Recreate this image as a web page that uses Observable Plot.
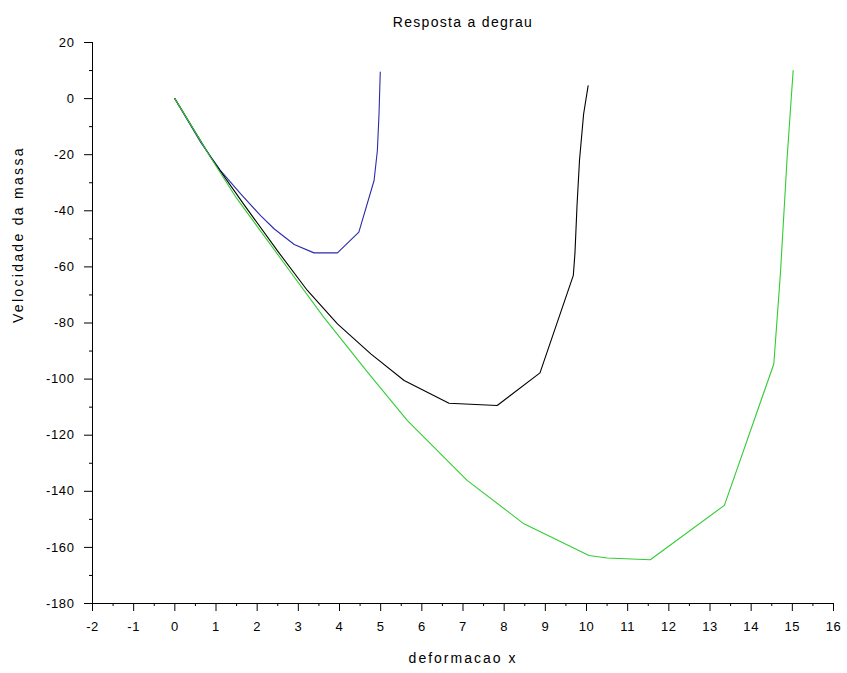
<!DOCTYPE html>
<html>
<head>
<meta charset="utf-8">
<script src="https://cdn.jsdelivr.net/npm/d3@7"></script>
<script src="https://cdn.jsdelivr.net/npm/@observablehq/plot@0.6"></script>
<style>
  html, body { margin: 0; padding: 0; background: #fff; }
  svg { display: block; }
</style>
</head>
<body>
<div id="chart"></div>
<script>
const title = "Resposta a degrau";
const xLabel = "deformacao x";
const yLabel = "Velocidade da massa";

const xTicks = [-2,-1,0,1,2,3,4,5,6,7,8,9,10,11,12,13,14,15,16];
const yTicks = [-180,-160,-140,-120,-100,-80,-60,-40,-20,0,20];

const blueX = [0, 0.63, 1.1, 1.6, 2.09, 2.41, 2.9, 3.38, 3.95, 4.47, 4.84, 4.92, 4.96, 4.99];
const blueY = [0, -15.6, -25.5, -34, -41.8, -46.4, -52, -55, -55, -47.6, -29.2, -18.5, -5.5, 9.5];

const blackX = [0, 0.87, 1.68, 2.49, 3.22, 3.95, 4.76, 5.57, 6.66, 7.83, 8.87, 9.68, 9.72, 9.77, 9.83, 9.93, 10.04];
const blackY = [0, -20.9, -37.8, -54.2, -68.4, -80.3, -91, -100.5, -108.6, -109.4, -97.8, -63, -55, -38, -22, -5.5, 4.6];

const greenX = [0, 0.87, 1.5, 2.65, 3.62, 4.68, 5.65, 7.1, 8.48, 10.06, 10.5, 11.55, 13.35, 14.55, 14.71, 14.87, 15.02];
const greenY = [0, -21, -35.5, -58.6, -78, -97.5, -114.8, -136.1, -151.6, -162.9, -163.8, -164.4, -145, -94.6, -62.5, -22, 10];

const seriesColors = {blue: "#2b2ba8", black: "#000000", green: "#33cc33"};

const toRows = (xs, ys, s) => xs.map((x, i) => ({x, y: ys[i], s}));
const rows = [
  ...toRows(blueX, blueY, "blue"),
  ...toRows(blackX, blackY, "black"),
  ...toRows(greenX, greenY, "green")
];

const xMinor = d3.range(-1.5, 16, 1);
const yMinor = d3.range(-170, 20, 20);

const font = "Liberation Sans, Arial, sans-serif";

const chart = Plot.plot({
  width: 847,
  height: 673,
  marginLeft: 92,
  marginRight: 14,
  marginTop: 42,
  marginBottom: 70,
  style: {fontFamily: font, fontSize: "13px", color: "#000", background: "#fff"},
  x: {domain: [-2, 16]},
  y: {domain: [-180, 20]},
  marks: [
    Plot.ruleY([-180], {stroke: "#000", strokeWidth: 1}),
    Plot.ruleX([-2], {stroke: "#000", strokeWidth: 1}),
    Plot.axisX({ticks: xTicks, tickSize: 8, tickPadding: 10, tickFormat: d => String(d), label: null, fontSize: 13}),
    Plot.axisX({ticks: xMinor, tickSize: 3, label: null, text: null}),
    Plot.axisY({ticks: yTicks, tickSize: 8, tickPadding: 10, tickFormat: d => String(d), label: null, fontSize: 13}),
    Plot.axisY({ticks: yMinor, tickSize: 3, label: null, text: null}),
    Plot.line(rows, {x: "x", y: "y", z: "s", stroke: d => seriesColors[d.s], strokeWidth: 1.1}),
    Plot.text([title], {frameAnchor: "top", dy: -25, fontSize: 14, fill: "#000"}),
    Plot.text([xLabel], {frameAnchor: "bottom", dy: 59, fontSize: 14, fill: "#000"}),
    Plot.text([yLabel], {frameAnchor: "left", dx: -74, rotate: -90, fontSize: 14, fill: "#000"})
  ]
});
const spacing = {[title]: "1.3px", [xLabel]: "2px", [yLabel]: "2.3px"};
chart.querySelectorAll("text").forEach(t => {
  t.setAttribute("fill", "#000");
  const s = spacing[t.textContent];
  if (s) t.style.letterSpacing = s;
  else if (/^-?\d+$/.test(t.textContent.replace("−", "-"))) t.style.letterSpacing = "0.6px";
});
document.getElementById("chart").appendChild(chart);
</script>
</body>
</html>
